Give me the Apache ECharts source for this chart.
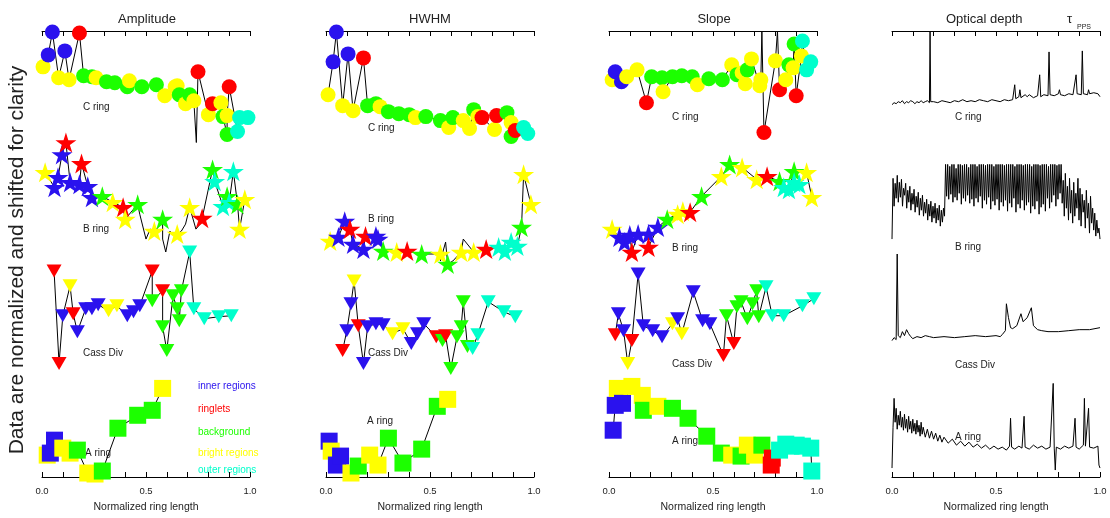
<!DOCTYPE html>
<html><head><meta charset="utf-8">
<script src="https://cdn.jsdelivr.net/npm/echarts@6/dist/echarts.min.js"></script>
<style>html,body{margin:0;padding:0;background:#fff}#c{width:1110px;height:518px}</style>
</head><body><div id="c"></div>
<script>
// ---------- data ----------
const COLORS = ['#2a12ee', '#ff0000', '#1cff00', '#ffff00', '#00ffcc'];
const LEGEND_LABELS = ['inner regions', 'ringlets', 'background', 'bright regions', 'outer regions'];
const PANEL_TITLES = ['Amplitude', 'HWHM', 'Slope', 'Optical depth'];
const TAU_SYMBOL = '\u03c4';
const TAU_SUB = 'PPS';
const RING_NAMES = ['C ring', 'B ring', 'Cass Div', 'A ring'];
const TICK_LABELS = [0, 0.5, 1];
const X_LABEL = 'Normalized ring length';
const Y_LABEL = 'Data are normalized and shifted for clarity';

// [x, shifted value, colour index]
const amplitudeC = [[.05,447,0],[.03,424,0],[.11,428,0],[.18,446,1],[.75,407,1],[.82,375,1],[.90,392,1],
 [.20,403,2],[.24,402,2],[.31,397,2],[.35,396,2],[.41,392,2],[.48,392,2],[.55,394,2],[.66,384,2],[.71,384,2],[.87,362,2],[.89,344,2],
 [.005,412,3],[.08,401,3],[.13,399,3],[.26,401,3],[.42,398,3],[.59,383,3],[.64,392,3],[.65,393,3],[.69,375,3],[.73,378,3],[.86,376,3],[.80,364,3],[.89,363,3],
 [.95,361,4],[.99,361,4],[.94,347,4]];
const amplitudeCLine = [[.742,336]];
const amplitudeB = [[.115,336,1],[.19,315,1],[.39,271,1],[.77,260,1],
 [.096,324,0],[.077,301,0],[.06,291,0],[.135,296,0],[.18,294,0],[.22,292,0],[.24,281,0],
 [.015,306,3],[.34,276,3],[.40,259,3],[.54,247,3],[.65,244,3],[.71,271,3],[.975,279,3],[.95,249,3],
 [.29,282,2],[.46,274,2],[.58,259,2],[.82,309,2],[.89,282,2],[.94,274,2],
 [.92,307,4],[.83,297,4],[.87,272,4],[.90,276,4]];
const amplitudeBLine = [[.47,264],[.50,239],[.52,249],[.56,251],[.58,239],[.595,226],[.615,247],[.64,241],[.67,247],[.69,254],[.74,249],[.76,254]];
const amplitudeCass = [[.058,207,1],[.082,114,1],[.15,164,1],[.53,207,1],[.58,187,1],
 [.135,192,3],[.32,167,3],[.36,172,3],
 [.10,162,0],[.17,146,0],[.21,169,0],[.24,169,0],[.27,173,0],[.41,162,0],[.44,166,0],[.47,172,0],
 [.53,177,2],[.58,151,2],[.60,127,2],[.63,182,2],[.67,187,2],[.65,169,2],[.66,157,2],
 [.71,226,4],[.73,169,4],[.78,159,4],[.85,161,4],[.91,162,4]];
const amplitudeA = [[.06,37,0],[.04,24,0],
 [.025,22,3],[.10,29,3],[.135,24,3],[.22,4,3],[.255,3,3],[.58,89,3],
 [.17,27,2],[.29,6,2],[.365,49,2],[.46,62,2],[.53,67,2]];

const hwhmC = [[.05,447,0],[.034,417,0],[.106,425,0],
 [.18,421,1],[.75,361,1],[.82,363,1],[.91,348,1],
 [.01,384,3],[.08,373,3],[.13,368,3],[.26,372,3],[.43,361,3],[.59,351,3],[.66,358,3],[.69,350,3],[.73,362,3],[.89,356,3],[.81,349,3],
 [.20,373,2],[.24,375,2],[.30,367,2],[.35,365,2],[.40,364,2],[.48,362,2],[.55,358,2],[.61,361,2],[.71,369,2],[.87,366,2],[.89,342,2],
 [.95,351,4],[.97,345,4]];
const hwhmB = [[.09,257,0],[.06,241,0],[.13,234,0],[.18,229,0],[.24,242,0],[.25,239,0],
 [.115,249,1],[.19,242,1],[.39,227,1],[.77,229,1],
 [.02,237,3],[.34,226,3],[.55,224,3],[.65,226,3],[.71,226,3],[.95,304,3],[.985,274,3],
 [.275,227,2],[.46,224,2],[.585,214,2],[.94,251,2],
 [.83,231,4],[.89,236,4],[.92,232,4],[.86,227,4]];
const hwhmBLine = [[.55,217],[.575,236],[.61,217],[.66,239]];
const hwhmCass = [[.135,197,3],[.32,144,3],[.37,149,3],
 [.12,174,0],[.10,147,0],[.18,114,0],[.20,151,0],[.24,154,0],[.275,153,0],[.41,134,0],[.44,144,0],[.47,154,0],
 [.08,127,1],[.155,152,1],[.53,141,1],[.575,142,1],
 [.56,137,2],[.66,176,2],[.65,151,2],[.63,141,2],[.68,131,2],[.60,109,2],
 [.73,143,4],[.705,129,4],[.78,176,4],[.855,166,4],[.91,161,4]];
const hwhmA = [[.015,36,0],[.05,12,0],[.07,21,0],
 [.025,26,3],[.12,4,3],[.21,22,3],[.25,12,3],[.585,78,3],
 [.155,11,2],[.30,39,2],[.37,14,2],[.46,28,2],[.535,71,2]];

const slopeC = [[.03,407,0],[.06,397,0],
 [.015,399,3],[.085,402,3],[.135,409,3],[.26,387,3],[.425,394,3],[.59,414,3],[.64,406,3],[.685,420,3],[.655,395,3],[.73,399,3],[.725,393,3],[.80,418,3],[.85,399,3],[.885,411,3],[.925,423,3],
 [.18,376,1],[.745,346,1],[.82,389,1],[.90,383,1],
 [.205,402,2],[.255,401,2],[.305,402,2],[.35,403,2],[.40,402,2],[.48,400,2],[.545,399,2],[.615,404,2],[.665,409,2],[.865,414,2],[.89,435,2],
 [.93,438,4],[.95,409,4],[.97,417,4]];
const slopeCLine = [[.735,448],[.81,448]];
const slopeB = [[.015,249,3],[.33,264,3],[.355,267,3],[.54,302,3],[.64,311,3],[.71,299,3],[.95,306,3],[.975,281,3],
 [.05,241,0],[.075,236,0],[.14,244,0],[.19,244,0],[.235,251,0],[.10,243,0],
 [.11,226,1],[.19,231,1],[.39,266,1],[.76,302,1],
 [.28,259,2],[.445,282,2],[.58,314,2],[.82,297,2],[.89,307,2],
 [.84,291,4],[.89,296,4],[.865,289,4],[.915,294,4]];
const slopeCass = [[.045,164,0],[.07,147,0],[.14,204,0],[.165,152,0],[.21,147,0],[.255,141,0],[.33,159,0],[.405,186,0],[.45,157,0],[.485,154,0],
 [.03,143,1],[.11,137,1],[.55,122,1],[.60,134,1],
 [.09,114,3],[.305,154,3],[.35,144,3],
 [.565,162,2],[.615,171,2],[.635,176,2],[.665,159,2],[.69,174,2],[.71,187,2],[.72,161,2],
 [.755,191,4],[.785,162,4],[.84,162,4],[.93,172,4],[.985,179,4]];
const slopeA = [[.04,89,3],[.11,91,3],[.16,82,3],[.235,71,3],[.59,22,3],[.665,32,3],[.70,22,3],
 [.03,72,0],[.065,74,0],[.02,47,0],
 [.165,67,2],[.305,69,2],[.38,59,2],[.47,41,2],[.54,24,2],[.635,21,2],[.735,32,2],
 [.78,12,1],[.785,19,1],
 [.82,27,4],[.85,33,4],[.875,31,4],[.90,32,4],[.93,31,4],[.97,29,4],[.975,6,4]];

// optical depth profiles [x, shifted value]
const tauC = [[0,374],[0.01,376],[0.02,375],[0.03,377],[0.04,376],[0.05,378],[0.06,375],[0.07,377],[0.08,376],[0.09,378],[0.10,377],[0.11,375],[0.12,377],[0.13,376],[0.14,378],[0.15,376],[0.16,377],[0.17,378],[0.18,376],[0.183,448],[0.186,377],[0.19,375],[0.20,377],[0.22,376],[0.24,378],[0.26,377],[0.28,376],[0.30,378],[0.32,377],[0.34,379],[0.36,377],[0.38,378],[0.40,377],[0.42,379],[0.44,378],[0.46,377],[0.48,379],[0.50,378],[0.52,377],[0.54,379],[0.56,378],[0.58,379],[0.59,394],[0.595,380],[0.61,382],[0.615,389],[0.62,381],[0.64,384],[0.65,382],[0.66,384],[0.68,381],[0.70,383],[0.71,404],[0.715,382],[0.73,384],[0.75,383],[0.755,427],[0.76,384],[0.78,383],[0.80,385],[0.805,389],[0.81,384],[0.83,383],[0.85,385],[0.87,384],[0.885,404],[0.89,385],[0.91,384],[0.915,428],[0.92,385],[0.94,384],[0.945,389],[0.95,385],[0.97,386],[0.99,385],[1.0,382]];
// B ring sampled evenly across the ring
const tauB = [239,300,272,295,280,303,276,296,281,299,272,290,283,295,270,288,276,292,268,285,274,289,266,282,271,286,263,280,268,283,262,276,265,279,258,274,262,277,256,272,260,275,255,270,258,273,252,268,256,270,262,
 314,282,314,279,312,284,314,276,314,281,310,278,314,285,314,274,313,280,314,277,314,283,311,275,314,279,314,272,314,280,312,276,314,282,314,270,314,278,313,274,314,281,314,269,314,277,312,273,314,279,314,268,314,276,314,272,313,278,314,267,314,275,314,271,314,280,312,266,314,274,314,270,314,278,313,268,314,273,314,276,314,265,312,272,314,269,314,277,314,264,313,271,314,274,314,267,314,280,312,270,314,276,314,283,314,272,313,279,314,285,314,275,
 298,262,305,270,292,258,300,265,288,255,296,262,285,270,300,258,290,252,284,266,278,250,288,260,275,245,282,255,270,248,265,242,258,245,250,239];
const tauCass = [[0,137],[0.01,140],[0.02,138],[0.025,224],[0.03,142],[0.04,140],[0.05,146],[0.06,142],[0.07,148],[0.08,144],[0.09,141],[0.10,139],[0.12,141],[0.14,140],[0.16,142],[0.18,141],[0.20,140],[0.25,141],[0.30,140],[0.35,141],[0.40,142],[0.45,141],[0.50,142],[0.52,141],[0.53,143],[0.545,147],[0.55,174],[0.56,160],[0.57,150],[0.58,149],[0.60,152],[0.62,164],[0.63,156],[0.65,160],[0.67,170],[0.68,152],[0.70,148],[0.72,147],[0.75,146],[0.80,146],[0.85,147],[0.90,148],[0.95,148],[1.0,150]];
const tauA = [[0,9],[0.005,50],[0.01,79],[0.015,55],[0.02,69],[0.025,48],[0.03,62],[0.035,52],[0.04,66],[0.045,50],[0.05,60],[0.055,47],[0.06,63],[0.065,49],[0.07,58],[0.075,45],[0.08,61],[0.085,48],[0.09,56],[0.095,44],[0.10,58],[0.105,46],[0.11,54],[0.115,43],[0.12,57],[0.125,45],[0.13,52],[0.135,41],[0.14,55],[0.145,43],[0.15,50],[0.16,40],[0.17,48],[0.18,39],[0.19,46],[0.20,38],[0.21,44],[0.22,36],[0.23,42],[0.24,35],[0.25,40],[0.27,34],[0.29,38],[0.31,32],[0.33,36],[0.35,31],[0.37,35],[0.39,30],[0.41,33],[0.43,29],[0.45,32],[0.47,28],[0.49,31],[0.51,28],[0.53,30],[0.55,27],[0.565,31],[0.57,59],[0.575,30],[0.59,28],[0.61,31],[0.625,29],[0.635,61],[0.64,30],[0.66,28],[0.68,32],[0.70,29],[0.72,31],[0.74,28],[0.76,30],[0.775,94],[0.78,29],[0.785,7],[0.79,30],[0.81,28],[0.83,31],[0.85,29],[0.87,31],[0.88,59],[0.885,30],[0.90,28],[0.92,32],[0.925,79],[0.93,31],[0.945,69],[0.95,30],[0.97,29],[0.99,31],[0.995,12],[1.0,9]];

// ---------- layout ----------
const FONT = "'Liberation Sans', Arial, sans-serif";
const GRID_LEFT = [42, 326, 609, 892];
const GRID_W = 208, GRID_TOP = 31, GRID_H = 448;
const SYMBOLS = [
  {symbol: 'circle', size: 15, rotate: 0},
  {symbol: 'path://M50,0 L61,35 L98,35 L68,57 L79,91 L50,70 L21,91 L32,57 L2,35 L39,35 Z', size: [21, 20], rotate: 0},
  {symbol: 'triangle', size: [15, 13], rotate: 180},
  {symbol: 'rect', size: 17, rotate: 0}
];

const grids = [], xAxes = [], yAxes = [], series = [];
GRID_LEFT.forEach((left, i) => {
  grids.push({left: left, top: GRID_TOP, width: GRID_W, height: GRID_H});
  const common = {
    type: 'value', gridIndex: i, min: 0, max: 1, interval: 0.1,
    axisLine: {onZero: false, lineStyle: {color: '#000', width: 1}},
    axisTick: {inside: true, length: 5, lineStyle: {color: '#000', width: 1}},
    splitLine: {show: false}
  };
  xAxes.push(Object.assign({}, common, {
    position: 'bottom',
    axisLabel: {fontFamily: FONT, fontSize: 9.5, color: '#222', margin: 9,
      formatter: v => TICK_LABELS.some(t => Math.abs(t - v) < 1e-6) ? v.toFixed(1) : ''},
    name: X_LABEL, nameLocation: 'middle', nameGap: 25,
    nameTextStyle: {fontFamily: FONT, fontSize: 10.5, color: '#222'}
  }));
  xAxes.push(Object.assign({}, common, {position: 'top', axisLabel: {show: false}}));
  yAxes.push({type: 'value', gridIndex: i, min: 0, max: 448, show: false});
});

function addRing(panel, pts, extra, sym) {
  const sorted = pts.slice().sort((a, b) => a[0] - b[0]);
  const linePts = sorted.map(p => [p[0], p[1]]).concat(extra || []).sort((a, b) => a[0] - b[0]);
  series.push({type: 'line', xAxisIndex: panel * 2, yAxisIndex: panel, data: linePts,
    symbol: 'none', showSymbol: false, lineStyle: {color: '#000', width: 1}, z: 2,
    animation: false, clip: true, silent: true});
  series.push({type: 'scatter', xAxisIndex: panel * 2, yAxisIndex: panel,
    data: sorted.map(p => ({value: [p[0], p[1]], itemStyle: {color: COLORS[p[2]], opacity: 1}})),
    symbol: sym.symbol, symbolSize: sym.size, symbolRotate: sym.rotate, z: 3,
    animation: false, clip: true, silent: true});
}
[[amplitudeC, amplitudeCLine], [amplitudeB, amplitudeBLine], [amplitudeCass, null], [amplitudeA, null]]
  .forEach((r, k) => addRing(0, r[0], r[1], SYMBOLS[k]));
[[hwhmC, null], [hwhmB, hwhmBLine], [hwhmCass, null], [hwhmA, null]]
  .forEach((r, k) => addRing(1, r[0], r[1], SYMBOLS[k]));
[[slopeC, slopeCLine], [slopeB, null], [slopeCass, null], [slopeA, null]]
  .forEach((r, k) => addRing(2, r[0], r[1], SYMBOLS[k]));

const tauBPts = tauB.map((v, i) => [i / (tauB.length - 1), v]);
[tauC, tauBPts, tauCass, tauA].forEach(d => {
  series.push({type: 'line', xAxisIndex: 6, yAxisIndex: 3, data: d, symbol: 'none', showSymbol: false,
    lineStyle: {color: '#000', width: 1}, animation: false, clip: true, silent: true});
});

// ---------- text ----------
const graphics = [];
const txt = (x, y, text, size, fill, align, extra) => Object.assign({type: 'text', x: x, y: y,
  style: {text: text, fontFamily: FONT, fontSize: size, fill: fill, align: align || 'left', verticalAlign: 'middle'}}, extra || {});
const TITLE_X = [147, 430, 714];
PANEL_TITLES.slice(0, 3).forEach((t, i) => graphics.push(txt(TITLE_X[i], 19, t, 13, '#222', 'center')));
graphics.push(txt(946, 19, PANEL_TITLES[3], 13, '#222', 'left'));
graphics.push(txt(1067, 19, TAU_SYMBOL, 13, '#222', 'left'));
graphics.push(txt(1077, 27, TAU_SUB, 7, '#222', 'left'));
const LABEL_POS = [
  [[83,107],[83,229],[83,353],[85,453]],
  [[368,128],[368,219],[368,353],[367,421]],
  [[672,117],[672,248],[672,364],[672,441]],
  [[955,117],[955,247],[955,365],[955,437]]
];
LABEL_POS.forEach(panel => panel.forEach((p, k) => graphics.push(txt(p[0], p[1], RING_NAMES[k], 10, '#222', 'left'))));
const LEGEND_Y = [386, 409, 432, 453, 470];
LEGEND_LABELS.forEach((l, k) => graphics.push(txt(198, LEGEND_Y[k], l, 10, COLORS[k], 'left')));
graphics.push(txt(17, 260, Y_LABEL, 21, '#222', 'center', {rotation: Math.PI / 2}));

const chart = echarts.init(document.getElementById('c'), null, {renderer: 'canvas'});
chart.setOption({
  animation: false,
  backgroundColor: '#fff',
  grid: grids, xAxis: xAxes, yAxis: yAxes, series: series, graphic: graphics
});
</script>
</body></html>
